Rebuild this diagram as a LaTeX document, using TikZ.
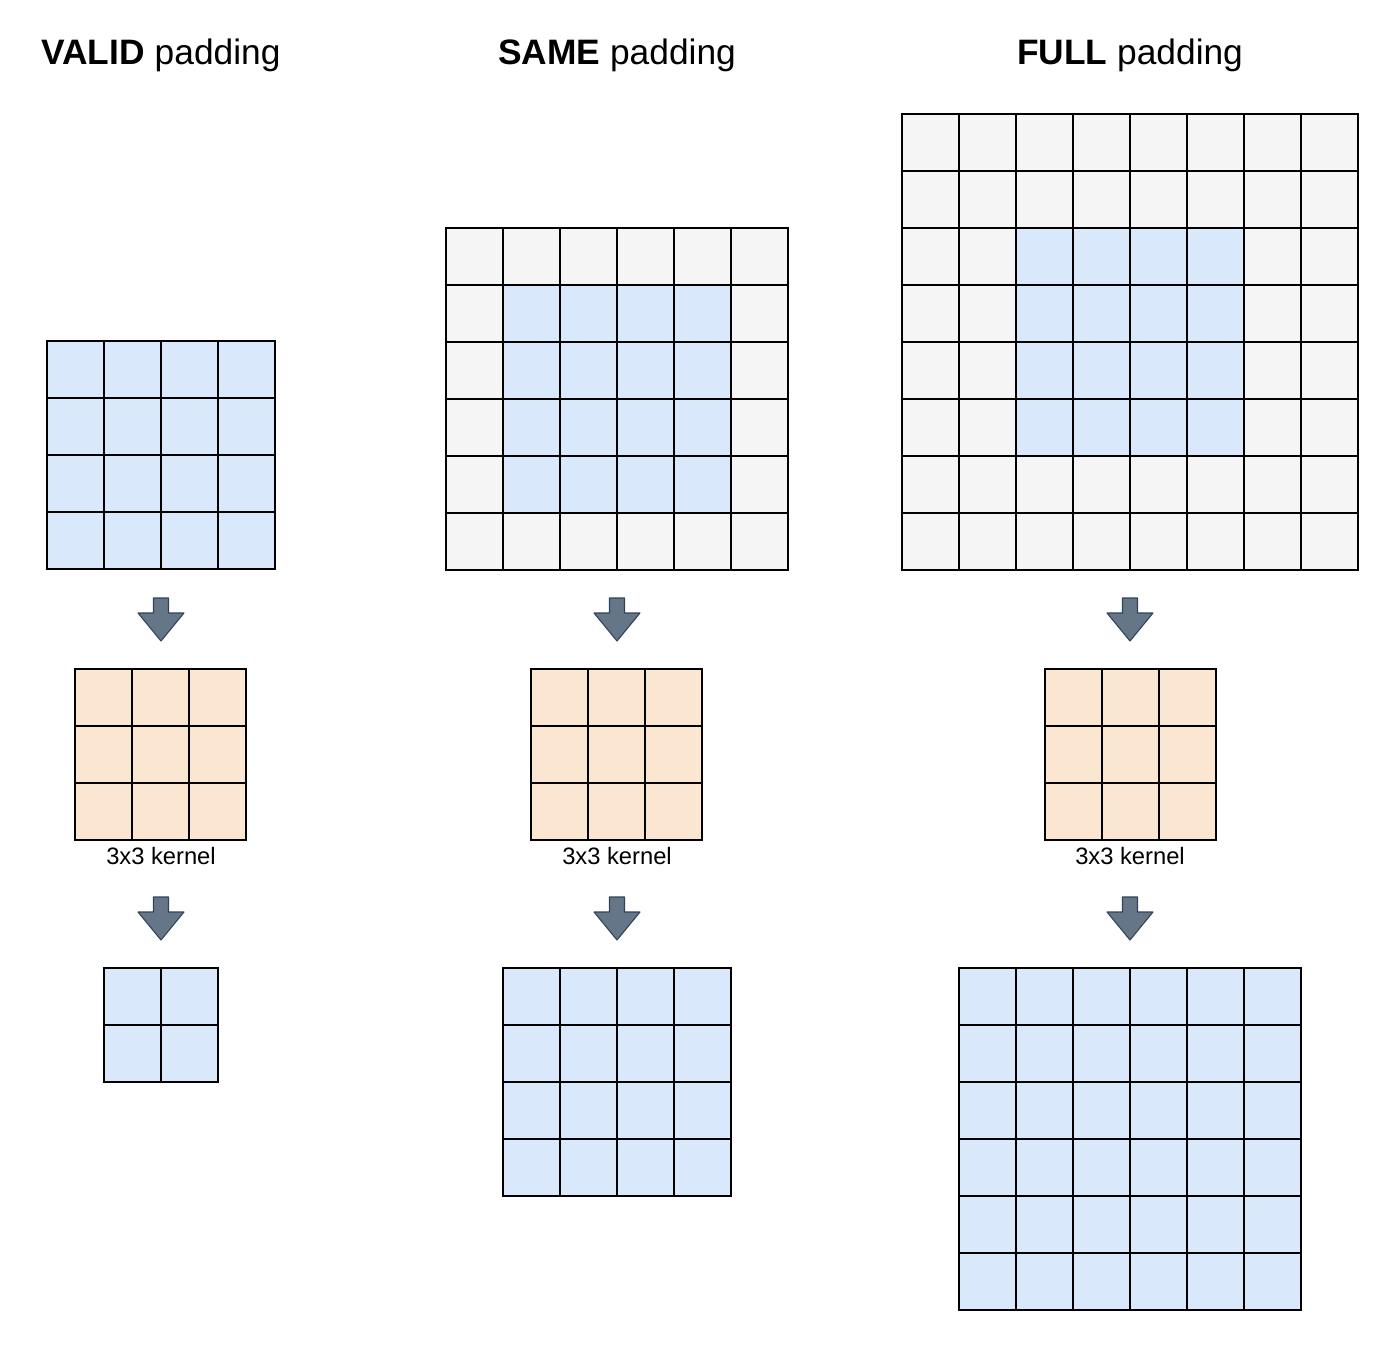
\documentclass[tikz,border=0pt]{standalone}
\usepackage{fontspec}
\setmainfont{Liberation Sans}
\usepackage{xcolor}
\usetikzlibrary{positioning}
\definecolor{cellblue}{HTML}{DAE8FC}
\definecolor{cellgrey}{HTML}{F5F5F5}
\definecolor{cellorange}{HTML}{FAE6D1}
\definecolor{arrowfill}{HTML}{647687}
\definecolor{arrowline}{HTML}{314354}
\tikzset{
    blue cell/.style={fill=cellblue, draw=black, line width=1.1pt},
    grey cell/.style={fill=cellgrey, draw=black, line width=1.1pt},
    kernel cell/.style={fill=cellorange, draw=black, line width=1.1pt},
    title/.style={anchor=base, font=\fontsize{26.5}{32}\selectfont},
    kernel label/.style={anchor=base, font=\fontsize{17.8}{21}\selectfont},
    pad arrow/.pic={
        \filldraw[fill=arrowfill, draw=arrowline, line width=0.8pt, line join=round]
            (-7.5,0) -- (7.5,0) -- (7.5,15) -- (23,15) -- (0,43) -- (-23,15) -- (-7.5,15) -- cycle;
    }
}

\begin{document}
\begin{tikzpicture}[x=0.75pt, y=-0.75pt]
        \pgfmathsetmacro{\cellsize}{57}
        \useasboundingbox (0,0) rectangle (1374,1346);
        \node[title] (titlevalid) at (161,64) {\textbf{VALID} padding};
        \node[title] (titlesame) at (617,64) {\textbf{SAME} padding};
        \node[title] (titlefull) at (1130,64) {\textbf{FULL} padding};
        % inputs
        \foreach \r in {0,...,3}{
                \foreach \c in {0,...,3}{
                        \filldraw [blue cell] ({47+\c*\cellsize}, {341+\r*\cellsize}) rectangle ++(\cellsize, \cellsize);
                    }
            }
        \foreach \r in {0,...,5}{
                \foreach \c in {0,...,5}{
                        \filldraw [grey cell] ({446+\c*\cellsize}, {228+\r*\cellsize}) rectangle ++(\cellsize, \cellsize);
                    }
            }
        \foreach \r in {1,...,4}{
                \foreach \c in {1,...,4}{
                        \filldraw [blue cell] ({446+\c*\cellsize}, {228+\r*\cellsize}) rectangle ++(\cellsize, \cellsize);
                    }
            }
        \foreach \r in {0,...,7}{
                \foreach \c in {0,...,7}{
                        \filldraw [grey cell] ({902+\c*\cellsize}, {114+\r*\cellsize}) rectangle ++(\cellsize, \cellsize);
                    }
            }
        \foreach \r in {2,...,5}{
                \foreach \c in {2,...,5}{
                        \filldraw [blue cell] ({902+\c*\cellsize}, {114+\r*\cellsize}) rectangle ++(\cellsize, \cellsize);
                    }
            }
        % kernels
        \foreach \x in {75, 531, 1045}{
                \foreach \r in {0,...,2}{
                        \foreach \c in {0,...,2}{
                                \filldraw [kernel cell] ({\x+\c*\cellsize}, {669+\r*\cellsize}) rectangle ++(\cellsize, \cellsize);
                            }
                    }
            }
        \node[kernel label] (labelvalid) at (161,864) {3x3 kernel};
        \node[kernel label] (labelsame) at (617,864) {3x3 kernel};
        \node[kernel label] (labelfull) at (1130,864) {3x3 kernel};
        % arrows
        \foreach \x in {161, 617, 1130}{
                \pic at (\x, 598) {pad arrow};
                \pic at (\x, 897) {pad arrow};
            }
        % outputs
        \foreach \r in {0,...,1}{
                \foreach \c in {0,...,1}{
                        \filldraw [blue cell] ({104+\c*\cellsize}, {968+\r*\cellsize}) rectangle ++(\cellsize, \cellsize);
                    }
            }
        \foreach \r in {0,...,3}{
                \foreach \c in {0,...,3}{
                        \filldraw [blue cell] ({503+\c*\cellsize}, {968+\r*\cellsize}) rectangle ++(\cellsize, \cellsize);
                    }
            }
        \foreach \r in {0,...,5}{
                \foreach \c in {0,...,5}{
                        \filldraw [blue cell] ({959+\c*\cellsize}, {968+\r*\cellsize}) rectangle ++(\cellsize, \cellsize);
                    }
            }
    \end{tikzpicture}
\end{document}
